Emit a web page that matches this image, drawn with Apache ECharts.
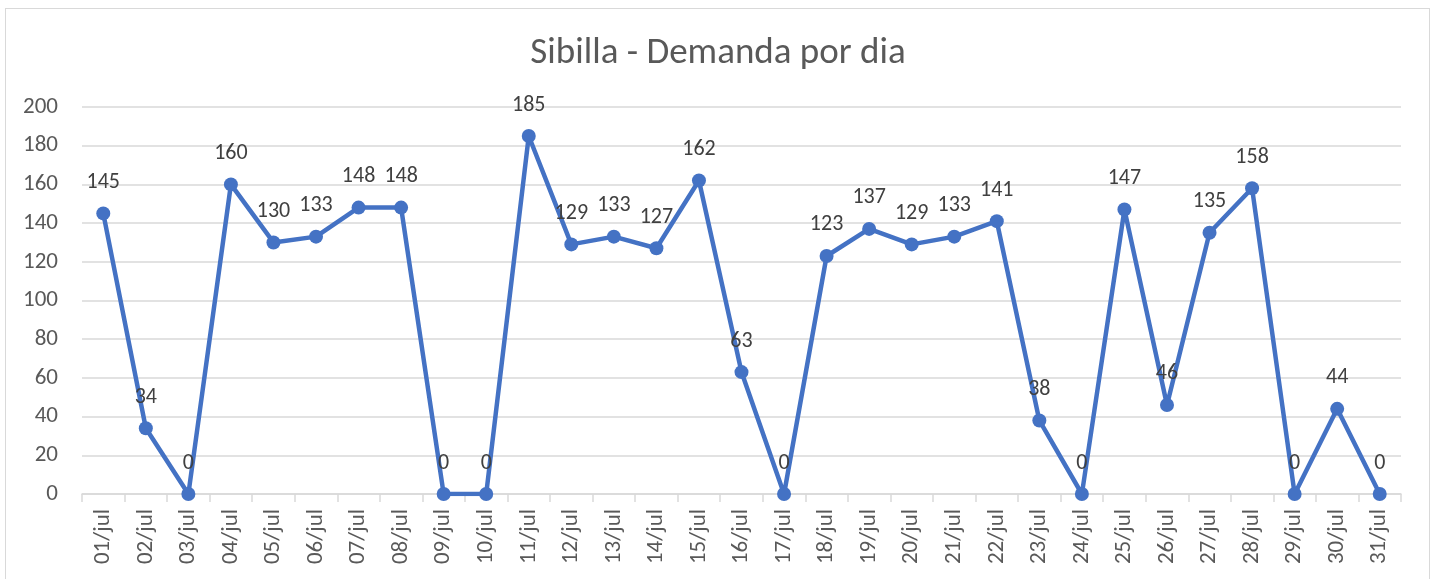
<!DOCTYPE html>
<html><head><meta charset="utf-8">
<script src="https://cdn.jsdelivr.net/npm/echarts@6/dist/echarts.min.js"></script>
<style>html,body{margin:0;padding:0;background:#fff}#c{width:1436px;height:579px}
#frame{position:absolute;left:5px;top:8px;width:1425px;height:580px;border:1px solid #d9d9d9;box-sizing:border-box;pointer-events:none}</style>
</head><body><div id="c"></div><div id="frame"></div>
<script>
const title = 'Sibilla - Demanda por dia';
const categories = ['01/jul','02/jul','03/jul','04/jul','05/jul','06/jul','07/jul','08/jul','09/jul','10/jul','11/jul','12/jul','13/jul','14/jul','15/jul','16/jul','17/jul','18/jul','19/jul','20/jul','21/jul','22/jul','23/jul','24/jul','25/jul','26/jul','27/jul','28/jul','29/jul','30/jul','31/jul'];
const demanda = [145,34,0,160,130,133,148,148,0,0,185,129,133,127,162,63,0,123,137,129,133,141,38,0,147,46,135,158,0,44,0];
const yTicks = [0,200,20];
const font = 'Calibri, Carlito, "Open Sans", "Noto Sans", sans-serif';
const chart = echarts.init(document.getElementById('c'));
chart.setOption({
  animation:false,
  title:{text:title,left:'center',top:30,textStyle:{fontFamily:font,fontSize:37,fontWeight:'normal',color:'#595959'}},
  grid:{left:82,right:35,top:107,bottom:85},
  xAxis:{type:'category',data:categories,boundaryGap:true,
    axisLine:{lineStyle:{color:'#d9d9d9',width:1.5}},
    axisTick:{show:true,length:8,lineStyle:{color:'#d9d9d9',width:1.5}},
    axisLabel:{rotate:90,fontFamily:font,fontSize:23,color:'#595959',margin:15}},
  yAxis:{type:'value',min:yTicks[0],max:yTicks[1],interval:yTicks[2],
    axisLine:{show:false},axisTick:{show:false},
    splitLine:{lineStyle:{color:'#d9d9d9',width:1.5}},
    axisLabel:{fontFamily:font,fontSize:23,color:'#595959',margin:24}},
  series:[{type:'line',data:demanda,symbol:'circle',symbolSize:14,
    lineStyle:{color:'#4472c4',width:4.5},itemStyle:{color:'#4472c4'},
    label:{show:true,position:'top',distance:13,fontFamily:font,fontSize:22,color:'#404040'}}]
});
</script></body></html>
